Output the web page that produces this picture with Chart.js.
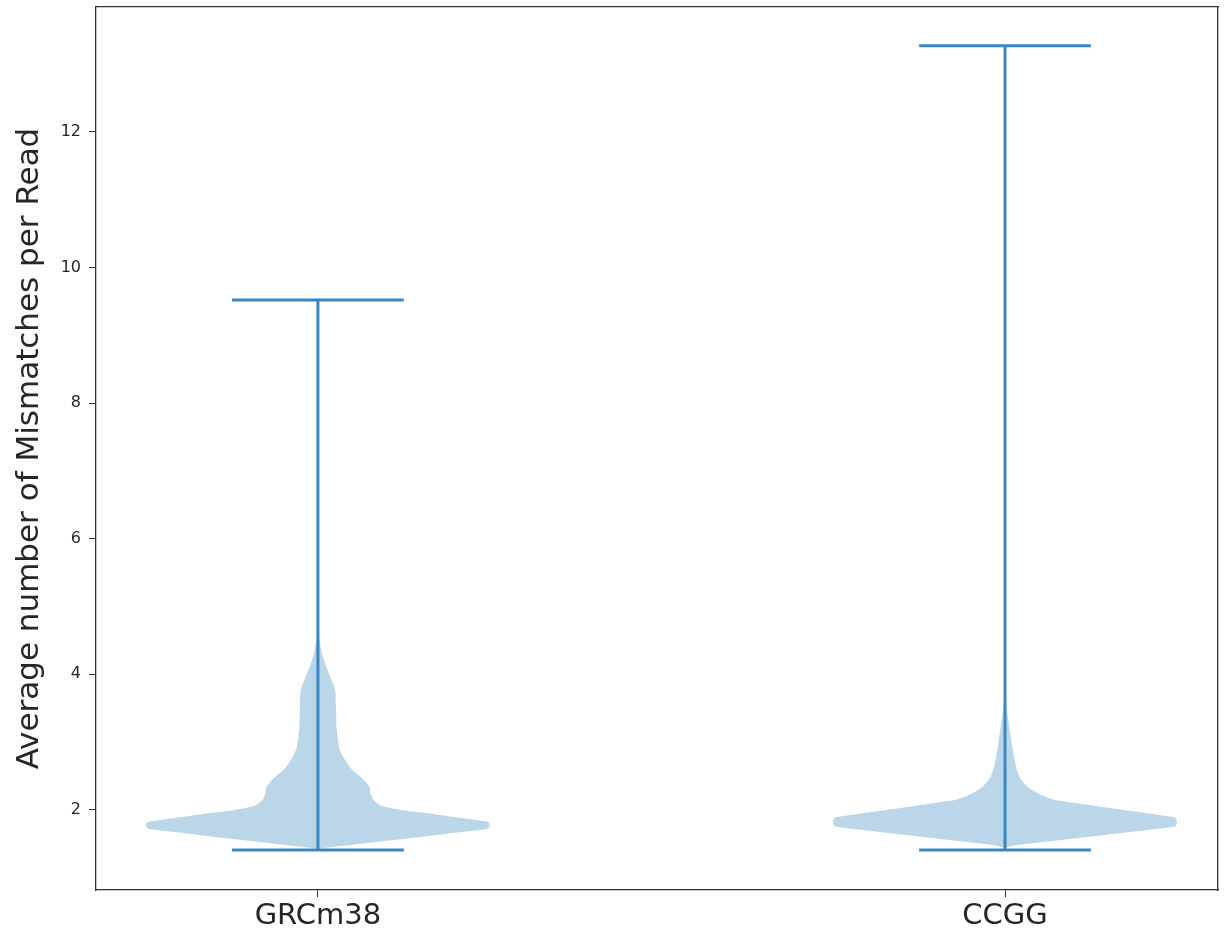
<!DOCTYPE html>
<html>
<head>
<meta charset="utf-8">
<script src="https://cdn.jsdelivr.net/npm/chart.js@4/dist/chart.umd.min.js"></script>
<style>
  html, body { margin: 0; padding: 0; background: #fff; }
  #wrap { width: 1228px; height: 937px; }
</style>
</head>
<body>
<div id="wrap"><canvas id="mycanvas" width="1228" height="937"></canvas></div>
<script>
// data
var categories = ["GRCm38", "CCGG"];
var minVals = [1.41, 1.41];
var maxVals = [9.52, 13.27];
var yTicks = [2, 4, 6, 8, 10, 12];

// violin outlines: y value and relative density (1 = widest)
var grcY = [1.41, 1.435, 1.484, 1.52, 1.558, 1.60, 1.656, 1.715, 1.75, 1.80, 1.828, 1.86, 1.90, 1.95, 1.99, 2.03, 2.07, 2.15, 2.25, 2.34, 2.44, 2.52, 2.59, 2.69, 2.79, 2.90, 3.03, 3.20, 3.38, 3.55, 3.72, 3.82, 3.92, 4.05, 4.17, 4.30, 4.46, 4.61];
var grcDensity = [0, 0.02, 0.19, 0.31, 0.44, 0.60, 0.77, 0.98, 1.0, 1.0, 0.99, 0.90, 0.78, 0.64, 0.51, 0.42, 0.36, 0.32, 0.305, 0.30, 0.27, 0.235, 0.20, 0.17, 0.145, 0.125, 0.116, 0.11, 0.107, 0.105, 0.103, 0.094, 0.078, 0.058, 0.04, 0.024, 0.012, 0];

var ccggY = [1.42, 1.45, 1.484, 1.53, 1.606, 1.68, 1.754, 1.79, 1.85, 1.892, 1.951, 2.025, 2.099, 2.147, 2.20, 2.246, 2.30, 2.344, 2.42, 2.49, 2.60, 2.74, 3.0, 3.23, 3.45, 3.72];
var ccggDensity = [0, 0.01, 0.07, 0.235, 0.49, 0.74, 0.99, 1.0, 1.0, 0.99, 0.83, 0.62, 0.42, 0.29, 0.23, 0.19, 0.155, 0.13, 0.103, 0.083, 0.068, 0.055, 0.038, 0.025, 0.012, 0];

var halfWidth = 0.25;   // violin max half width in x units
var capHalf = 0.125;
var lineColor = "#3a86c0";
var bodyColor = "rgba(31, 119, 180, 0.3)";

function outline(pos, ys, dens) {
	var pts = [];
	for (var i = 0; i < ys.length; i++) {
		pts.push({x: pos + dens[i] * halfWidth, y: ys[i]});
	}
	for (var j = ys.length - 1; j >= 0; j--) {
		pts.push({x: pos - dens[j] * halfWidth, y: ys[j]});
	}
	return pts;
}

var bodies = [[grcY, grcDensity], [ccggY, ccggDensity]];
var datasets = [];

for (var i = 0; i < categories.length; i++) {
	var pos = i + 1;
	datasets.push({
		label: categories[i] + " body",
		data: outline(pos, bodies[i][0], bodies[i][1]),
		showLine: true,
		fill: "shape",
		backgroundColor: bodyColor,
		borderWidth: 0,
		borderColor: "rgba(0,0,0,0)",
		pointRadius: 0,
		order: 2
	});
	var lineStyle = {
		showLine: true,
		borderColor: lineColor,
		borderWidth: 3,
		pointRadius: 0,
		fill: false,
		order: 1
	};
	datasets.push(Object.assign({label: categories[i] + " bar", data: [{x: pos, y: minVals[i]}, {x: pos, y: maxVals[i]}]}, lineStyle));
	datasets.push(Object.assign({label: categories[i] + " max", data: [{x: pos - capHalf, y: maxVals[i]}, {x: pos + capHalf, y: maxVals[i]}]}, lineStyle));
	datasets.push(Object.assign({label: categories[i] + " min", data: [{x: pos - capHalf, y: minVals[i]}, {x: pos + capHalf, y: minVals[i]}]}, lineStyle));
}

var frameColor = "#333";
var textColor = "#262626";

var ctx = document.getElementById("mycanvas");

var ViolinChart = new Chart(ctx, {
	type: "scatter",
	data: {datasets: datasets},
	options: {
		responsive: false,
		animation: false,
		events: [],
		layout: {padding: 0},
		plugins: {
			legend: {display: false},
			tooltip: {enabled: false}
		},
		scales: {
			x: {
				type: "linear",
				position: "bottom",
				min: 0.677,
				max: 2.31,
				afterBuildTicks: function(scale) {
					scale.ticks = [{value: 1}, {value: 2}];
				},
				afterFit: function(scale) { scale.height = 47; },
				ticks: {
					font: {family: "DejaVu Sans", size: 29, lineHeight: 0.3},
					color: textColor,
					padding: 15,
					maxRotation: 0,
					callback: function(v) { return categories[v - 1]; }
				},
				grid: {display: true, drawOnChartArea: false, drawTicks: true, tickLength: 7, color: frameColor, lineWidth: 1},
				border: {display: true, color: frameColor, width: 1.3}
			},
			y: {
				type: "linear",
				position: "left",
				min: 0.82,
				max: 13.84,
				afterBuildTicks: function(scale) {
					scale.ticks = yTicks.map(function(v) { return {value: v}; });
				},
				afterFit: function(scale) {
					scale.width = 96;
					scale.paddingTop = 0;
					scale.paddingBottom = 0;
				},
				ticks: {
					font: {family: "DejaVu Sans", size: 16, lineHeight: 0.6},
					color: textColor,
					padding: 8
				},
				title: {
					display: true,
					text: "Average number of Mismatches per Read",
					font: {family: "DejaVu Sans", size: 31},
					color: textColor,
					padding: {top: 11, bottom: 0}
				},
				grid: {display: true, drawOnChartArea: false, drawTicks: true, tickLength: 7, color: frameColor, lineWidth: 1},
				border: {display: true, color: frameColor, width: 1.3}
			},
			xTop: {
				type: "linear",
				position: "top",
				afterFit: function(scale) { scale.height = 7; },
				ticks: {display: false},
				grid: {display: true, drawOnChartArea: false, drawTicks: false, color: "rgba(0,0,0,0)"},
				border: {display: true, color: frameColor, width: 1.3}
			},
			yRight: {
				type: "linear",
				position: "right",
				afterFit: function(scale) { scale.width = 10; },
				ticks: {display: false},
				grid: {display: true, drawOnChartArea: false, drawTicks: false, color: "rgba(0,0,0,0)"},
				border: {display: true, color: frameColor, width: 1.3}
			}
		}
	}
});
</script>
</body>
</html>
